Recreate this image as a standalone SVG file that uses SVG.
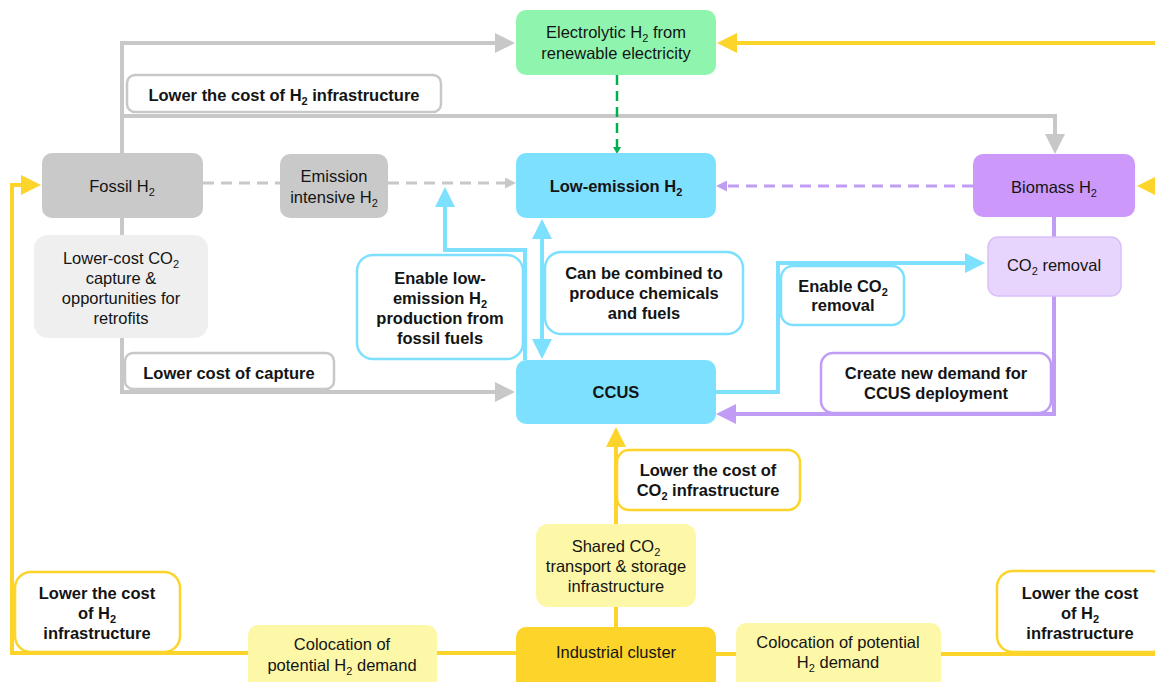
<svg xmlns="http://www.w3.org/2000/svg" width="1155" height="682" viewBox="0 0 1155 682">
<style>
.t{font-family:"Liberation Sans",Arial,sans-serif;font-size:16.5px;fill:#141414;text-anchor:middle}
.b{font-weight:bold}
.s{font-size:11px}
.ln{fill:none;stroke-width:4}
.g{stroke:#c8c8c8}.c{stroke:#7ee0ff}.p{stroke:#c09cf5}.y{stroke:#fdd42a}
.dg{fill:none;stroke:#c8c8c8;stroke-width:3;stroke-dasharray:11 7}
.dp{fill:none;stroke:#c09cf5;stroke-width:3;stroke-dasharray:11 7}
.dgr{fill:none;stroke:#00b050;stroke-width:2.5;stroke-dasharray:10 6}
.lab{fill:#fff;stroke-width:2.5}
</style>
<defs>
<marker id="ag" viewBox="0 0 20 20" refX="1" refY="10" markerWidth="20" markerHeight="20" markerUnits="userSpaceOnUse" orient="auto"><path d="M0,0 L20,10 L0,20 z" fill="#c8c8c8"/></marker>
<marker id="ac" viewBox="0 0 20 20" refX="1" refY="10" markerWidth="20" markerHeight="20" markerUnits="userSpaceOnUse" orient="auto-start-reverse"><path d="M0,0 L20,10 L0,20 z" fill="#7ee0ff"/></marker>
<marker id="ap" viewBox="0 0 20 20" refX="1" refY="10" markerWidth="20" markerHeight="20" markerUnits="userSpaceOnUse" orient="auto"><path d="M0,0 L20,10 L0,20 z" fill="#c09cf5"/></marker>
<marker id="ay" viewBox="0 0 20 20" refX="1" refY="10" markerWidth="20" markerHeight="20" markerUnits="userSpaceOnUse" orient="auto"><path d="M0,0 L20,10 L0,20 z" fill="#fdd42a"/></marker>
<marker id="sg" viewBox="0 0 11 11" refX="0" refY="5.5" markerWidth="11" markerHeight="11" markerUnits="userSpaceOnUse" orient="auto"><path d="M0,0 L11,5.5 L0,11 z" fill="#c8c8c8"/></marker>
<marker id="sp" viewBox="0 0 11 11" refX="0" refY="5.5" markerWidth="11" markerHeight="11" markerUnits="userSpaceOnUse" orient="auto"><path d="M0,0 L11,5.5 L0,11 z" fill="#c09cf5"/></marker>
<marker id="sgr" viewBox="0 0 7 8" refX="0" refY="4" markerWidth="7" markerHeight="8" markerUnits="userSpaceOnUse" orient="auto"><path d="M0,0 L7,4 L0,8 z" fill="#00b050"/></marker>
</defs>
<rect width="1155" height="682" fill="#fff"/>
<g id="connectors">
<path class="ln g" d="M122,154 L122,43 L496,43" marker-end="url(#ag)"/>
<path class="ln g" d="M122,116 L1055,116 L1055,135" marker-end="url(#ag)"/>
<path class="ln g" d="M122,218 L122,236"/>
<path class="ln g" d="M122,337 L122,392 L496,392" marker-end="url(#ag)"/>
<path class="dg" d="M203,183 L280,183"/>
<path class="dg" d="M388,183 L505,183" marker-end="url(#sg)"/>
<path class="dgr" d="M617,75 L617,147" marker-end="url(#sgr)"/>
<path class="dp" d="M973,186 L727,186" marker-end="url(#sp)"/>
<path class="ln c" d="M525,360 L525,250 L445,250 L445,206" marker-end="url(#ac)"/>
<path class="ln c" d="M542,238 L542,340" marker-start="url(#ac)" marker-end="url(#ac)"/>
<path class="ln c" d="M716,392 L778,392 L778,263 L966,263" marker-end="url(#ac)"/>
<path class="ln p" d="M1054,217 L1054,237"/>
<path class="ln p" d="M1054,296 L1054,414 L735,414" marker-end="url(#ap)"/>
<path class="ln y" d="M616,627 L616,446" marker-end="url(#ay)"/>
<path class="ln y" d="M516,653 L12,653 L12,185 L22,185" marker-end="url(#ay)"/>
<path class="ln y" d="M716,654 L1160,654"/>
<path class="ln y" d="M1160,43 L736,43" marker-end="url(#ay)"/>
<path class="ln y" d="M1175,186 L1156,186" marker-end="url(#ay)"/>
</g>
<g id="electrolytic">
<rect x="516" y="10" width="200" height="65" rx="10" fill="#8ff5ae"/>
<text class="t"><tspan x="616" y="38">Electrolytic H<tspan class="s" dy="4">2</tspan><tspan dy="-4"> from</tspan></tspan><tspan x="616" y="59">renewable electricity</tspan></text>
</g>
<g id="low-emission">
<rect x="516" y="153" width="200" height="65" rx="10" fill="#7ee0ff"/>
<text class="t b" x="616" y="192">Low-emission H<tspan class="s" dy="4">2</tspan></text>
</g>
<g id="ccus">
<rect x="516" y="360" width="200" height="64" rx="10" fill="#7ee0ff"/>
<text class="t b" x="616" y="398">CCUS</text>
</g>
<g id="fossil">
<rect x="42" y="153" width="161" height="65" rx="10" fill="#c9c9c9"/>
<text class="t" x="122" y="192">Fossil H<tspan class="s" dy="4">2</tspan></text>
</g>
<g id="emission-intensive">
<rect x="280" y="154" width="108" height="64" rx="10" fill="#c9c9c9"/>
<text class="t"><tspan x="334" y="182">Emission</tspan><tspan x="334" y="203">intensive H<tspan class="s" dy="4">2</tspan></tspan></text>
</g>
<g id="biomass">
<rect x="973" y="154" width="162" height="63" rx="10" fill="#cc99fb"/>
<text class="t" x="1054" y="193">Biomass H<tspan class="s" dy="4">2</tspan></text>
</g>
<g id="co2-removal">
<rect x="988" y="237" width="133" height="59" rx="10" fill="#e8d5fd" stroke="#d9bffa" stroke-width="1.5"/>
<text class="t" x="1054" y="271">CO<tspan class="s" dy="4">2</tspan><tspan dy="-4"> removal</tspan></text>
</g>
<g id="lower-cost-capture-node">
<rect x="34" y="235" width="174" height="103" rx="14" fill="#efefef"/>
<text class="t"><tspan x="121" y="264">Lower-cost CO<tspan class="s" dy="4">2</tspan></tspan><tspan x="121" y="284">capture &amp;</tspan><tspan x="121" y="304">opportunities for</tspan><tspan x="121" y="324">retrofits</tspan></text>
</g>
<g id="shared-co2">
<rect x="536" y="524" width="160" height="83" rx="12" fill="#fdf7a8"/>
<text class="t"><tspan x="616" y="552">Shared CO<tspan class="s" dy="4">2</tspan></tspan><tspan x="616" y="572">transport &amp; storage</tspan><tspan x="616" y="592">infrastructure</tspan></text>
</g>
<g id="industrial-cluster">
<rect x="516" y="627" width="200" height="65" rx="10" fill="#fdd42a"/>
<text class="t" x="616" y="658">Industrial cluster</text>
</g>
<g id="colocation-left">
<rect x="248" y="625" width="189" height="67" rx="10" fill="#fdf7a8"/>
<text class="t"><tspan x="342" y="650">Colocation of</tspan><tspan x="342" y="671">potential H<tspan class="s" dy="4">2</tspan><tspan dy="-4"> demand</tspan></tspan></text>
</g>
<g id="colocation-right">
<rect x="736" y="623" width="205" height="69" rx="10" fill="#fdf7a8"/>
<text class="t"><tspan x="838" y="648">Colocation of potential</tspan><tspan x="838" y="668">H<tspan class="s" dy="4">2</tspan><tspan dy="-4"> demand</tspan></tspan></text>
</g>
<g id="label-h2-infra-top">
<rect class="lab g" x="127" y="75" width="314" height="37" rx="8"/>
<text class="t b" x="284" y="101">Lower the cost of H<tspan class="s" dy="4">2</tspan><tspan dy="-4"> infrastructure</tspan></text>
</g>
<g id="label-capture">
<rect class="lab g" x="125" y="353" width="209" height="36" rx="8"/>
<text class="t b" x="229" y="379">Lower cost of capture</text>
</g>
<g id="label-enable-low-emission">
<rect class="lab c" x="357" y="255" width="166" height="104" rx="16"/>
<text class="t b"><tspan x="440" y="284">Enable low-</tspan><tspan x="440" y="304">emission H<tspan class="s" dy="4">2</tspan></tspan><tspan x="440" y="324">production from</tspan><tspan x="440" y="344">fossil fuels</tspan></text>
</g>
<g id="label-combined">
<rect class="lab c" x="545" y="252" width="198" height="82" rx="16"/>
<text class="t b"><tspan x="644" y="279">Can be combined to</tspan><tspan x="644" y="299">produce chemicals</tspan><tspan x="644" y="319">and fuels</tspan></text>
</g>
<g id="label-enable-co2">
<rect class="lab c" x="781" y="266" width="123" height="59" rx="12"/>
<text class="t b"><tspan x="843" y="292">Enable CO<tspan class="s" dy="4">2</tspan></tspan><tspan x="843" y="311">removal</tspan></text>
</g>
<g id="label-new-demand">
<rect class="lab p" x="821" y="353" width="230" height="60" rx="12"/>
<text class="t b"><tspan x="936" y="379">Create new demand for</tspan><tspan x="936" y="399">CCUS deployment</tspan></text>
</g>
<g id="label-co2-infra">
<rect class="lab y" x="617" y="450" width="183" height="60" rx="12"/>
<text class="t b"><tspan x="708" y="476">Lower the cost of</tspan><tspan x="708" y="496">CO<tspan class="s" dy="4">2</tspan><tspan dy="-4"> infrastructure</tspan></tspan></text>
</g>
<g id="label-h2-infra-left">
<rect class="lab y" x="15" y="572" width="165" height="80" rx="16"/>
<text class="t b"><tspan x="97" y="599">Lower the cost</tspan><tspan x="97" y="619">of H<tspan class="s" dy="4">2</tspan></tspan><tspan x="97" y="639">infrastructure</tspan></text>
</g>
<g id="label-h2-infra-right">
<rect class="lab y" x="997" y="571" width="170" height="81" rx="16"/>
<text class="t b"><tspan x="1080" y="599">Lower the cost</tspan><tspan x="1080" y="619">of H<tspan class="s" dy="4">2</tspan></tspan><tspan x="1080" y="639">infrastructure</tspan></text>
</g>
</svg>
